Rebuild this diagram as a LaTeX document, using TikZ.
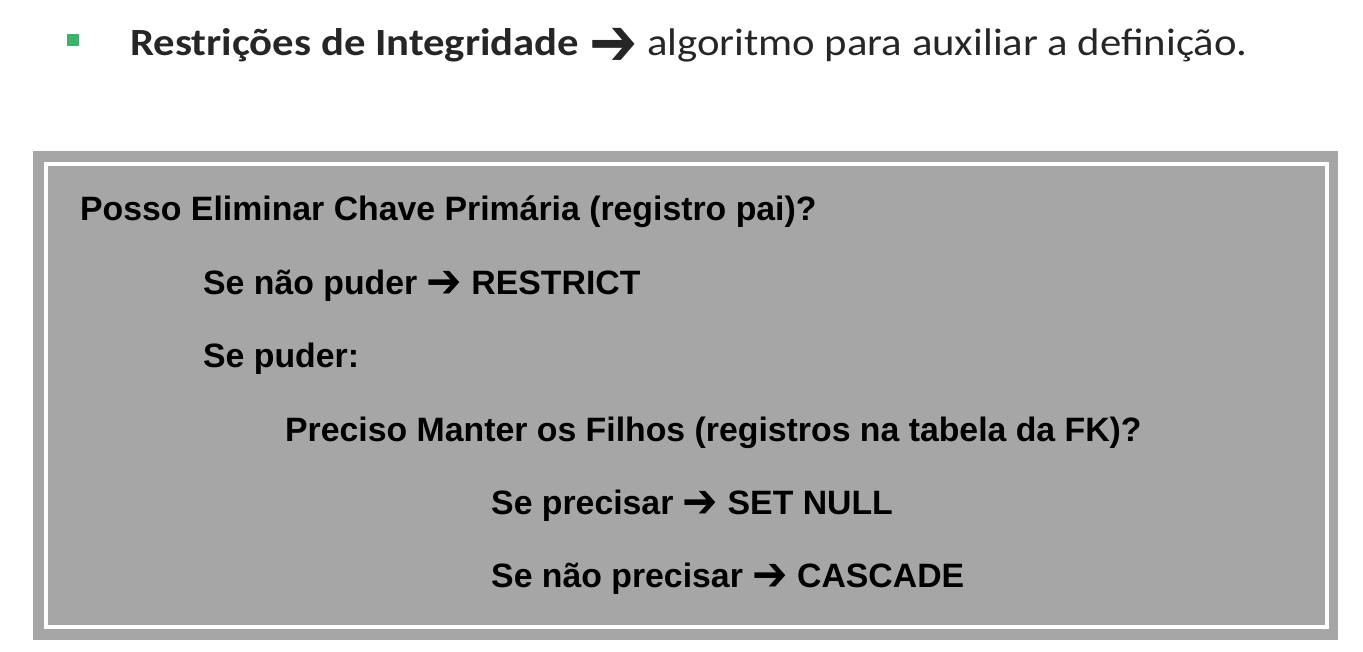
\documentclass[tikz,border=0pt]{standalone}
\usepackage{fontspec}
\setmainfont{Liberation Sans}
\newfontfamily\slidefont{Carlito}
\newfontfamily\arrowfont{DejaVu Sans}
\usetikzlibrary{positioning}

\definecolor{boxgray}{RGB}{166,166,166}
\definecolor{bulletgreen}{RGB}{60,179,106}
% heavy arrow glyph: #1 = x scale, #2 = y scale, #3 = drop
\newcommand{\thenarrow}[3]{\raisebox{-#3}{\scalebox{#1}[#2]{\arrowfont ➔}}}

\begin{document}
\begin{tikzpicture}[x=1bp, y=-1bp,
    rule/.style={anchor=base west, inner sep=0pt, text=black,
                 font=\bfseries\fontsize{33.8bp}{40bp}\selectfont}]
  \useasboundingbox (0,0) rectangle (1363,652);

  % slide title
  \node[fill=bulletgreen, minimum size=12bp, inner sep=0pt] (bullet) at (73,40) {};
  \node[anchor=base west, inner sep=0pt, text=black!85,
        font=\slidefont\fontsize{38.5bp}{44bp}\selectfont] (title) at (130,56)
        {\scalebox{1.11}[1]{\textbf{Restrições de Integridade \thenarrow{1.35}{1.75}{9.5bp}}
         algoritmo para auxiliar a definição.}};

  % grey frame
  \fill[boxgray] (33,151) rectangle (1338,640);
  \draw[white, line width=4bp] (46,164) rectangle (1327,627);

  \node[rule] (ask)      at (80,220)  {Posso Eliminar Chave Primária (registro pai)?};
  \node[rule] (cannot)   at (203,294) {Se não puder \thenarrow{1.25}{1.4}{3bp} RESTRICT};
  \node[rule] (can)      at (203,367) {Se puder:};
  \node[rule] (keep)     at (285,441) {Preciso Manter os Filhos (registros na tabela da FK)?};
  \node[rule] (setnull)  at (491,514) {Se precisar \thenarrow{1.25}{1.4}{3bp} SET NULL};
  \node[rule] (cascade)  at (491,587) {Se não precisar \thenarrow{1.25}{1.4}{3bp} CASCADE};
\end{tikzpicture}
\end{document}
